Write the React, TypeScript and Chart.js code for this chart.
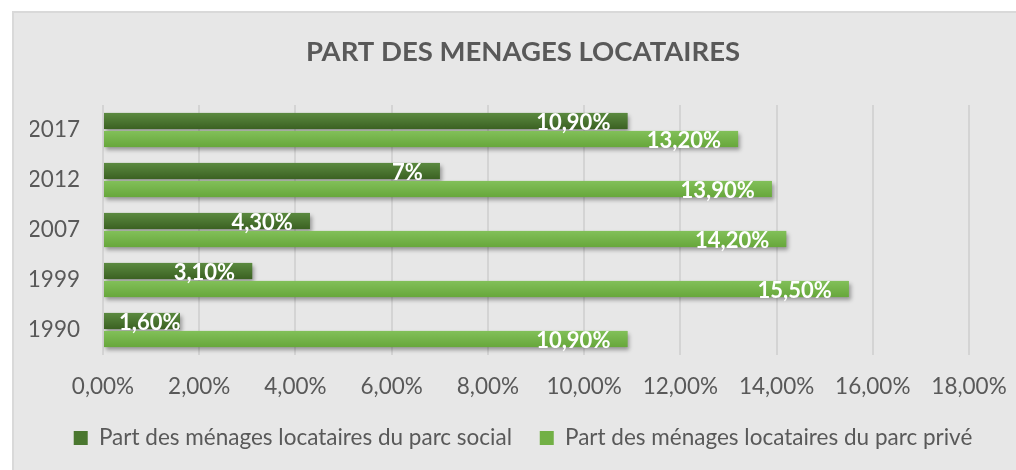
import React, { useEffect, useRef } from 'react';
import { Chart, registerables } from 'chart.js';

Chart.register(...registerables);

const years = ['2017', '2012', '2007', '1999', '1990'];
const socialValues = [10.9, 7, 4.3, 3.1, 1.6];
const priveValues = [13.2, 13.9, 14.2, 15.5, 10.9];
const seriesNames = [
  'Part des ménages locataires du parc social',
  'Part des ménages locataires du parc privé',
];
const xMin = 0;
const xMax = 18;
const xStep = 2;
const chartTitle = 'PART DES MENAGES LOCATAIRES';

const baseColors = ['#4a772f', '#72b045'];
const gradStops = [
  ['#5b8a40', '#3b6122'],
  ['#82c059', '#67a73b'],
];

const fmtTick = (v: number) => v.toFixed(2).replace('.', ',') + '%';
const fmtLabel = (v: number) =>
  Number.isInteger(v) ? v + '%' : v.toFixed(2).replace('.', ',') + '%';

const FONT = 'Lato, "Open Sans", sans-serif';

const barFx = {
  id: 'barFx',
  beforeDatasetsDraw(chart: any) {
    const ctx = chart.ctx;
    ctx.save();
    ctx.shadowColor = 'rgba(0,0,0,0.35)';
    ctx.shadowBlur = 4;
    ctx.shadowOffsetX = 2;
    ctx.shadowOffsetY = 3;
  },
  afterDatasetsDraw(chart: any) {
    const ctx = chart.ctx;
    ctx.restore();
    chart.data.datasets.forEach((ds: any, di: number) => {
      const meta = chart.getDatasetMeta(di);
      const [c0, c1] = gradStops[di];
      meta.data.forEach((el: any) => {
        const { x, y, base, height } = el.getProps(['x', 'y', 'base', 'height'], true);
        const t = y - height / 2;
        const g = ctx.createLinearGradient(0, t, 0, t + height);
        g.addColorStop(0, c0);
        g.addColorStop(1, c1);
        ctx.fillStyle = g;
        ctx.fillRect(base, t, x - base, height);
      });
    });
    ctx.save();
    ctx.font = 'bold 22px ' + FONT;
    ctx.fillStyle = '#ffffff';
    ctx.textAlign = 'right';
    ctx.textBaseline = 'alphabetic';
    chart.data.datasets.forEach((ds: any, di: number) => {
      const meta = chart.getDatasetMeta(di);
      meta.data.forEach((el: any, i: number) => {
        const { x, y, base, height } = el.getProps(['x', 'y', 'base', 'height'], true);
        const txt = fmtLabel(ds.data[i]);
        const w = ctx.measureText(txt).width;
        const right = Math.max(x - 17, base + 15 + w);
        ctx.fillText(txt, right, y + height / 2 + 1);
      });
    });
    ctx.restore();
  },
};

function BarChart() {
  const ref = useRef<HTMLCanvasElement | null>(null);
  useEffect(() => {
    if (!ref.current) return;
    Chart.defaults.font.family = FONT;
    const chart = new Chart(ref.current, {
      type: 'bar',
      data: {
        labels: years,
        datasets: [
          {
            label: seriesNames[0],
            data: socialValues,
            backgroundColor: baseColors[0],
            borderWidth: 0,
            categoryPercentage: 0.72,
            barPercentage: 0.9,
          },
          {
            label: seriesNames[1],
            data: priveValues,
            backgroundColor: baseColors[1],
            borderWidth: 0,
            categoryPercentage: 0.72,
            barPercentage: 0.9,
          },
        ],
      },
      options: {
        indexAxis: 'y',
        responsive: false,
        animation: false,
        devicePixelRatio: 1,
        layout: { padding: { left: 18, right: 0, top: 0, bottom: 10.75 } },
        scales: {
          x: {
            min: xMin,
            max: xMax,
            ticks: {
              stepSize: xStep,
              callback: (v: any) => fmtTick(Number(v)),
              color: '#595959',
              font: { size: 22.5 },
              padding: 18.5,
            },
            grid: { color: '#d4d4d4', lineWidth: 2, drawTicks: false },
            border: { display: false },
            afterFit: (s: any) => {
              s.paddingRight = 47;
              s.height = 44;
            },
          },
          y: {
            ticks: { color: '#595959', font: { size: 22.5 }, padding: 23 },
            grid: { display: false, drawTicks: false },
            border: { display: false },
            afterFit: (s: any) => {
              s.width = 73;
            },
          },
        },
        plugins: {
          title: {
            display: true,
            text: chartTitle,
            color: '#595959',
            font: { size: 27.5, weight: 'bold' },
            padding: { top: 24.5, bottom: 36.5 },
          },
          legend: {
            position: 'bottom',
            labels: {
              boxWidth: 14,
              boxHeight: 14,
              padding: 27.75,
              color: '#595959',
              font: { size: 22.5 },
            },
          },
          tooltip: { enabled: false },
        },
      },
      plugins: [barFx],
    });
    return () => chart.destroy();
  }, []);
  return (
    <canvas
      ref={ref}
      width={1004}
      height={459}
      style={{ position: 'absolute', left: 12, top: 11, width: 1004, height: 459 }}
    />
  );
}

export default function App() {
  return (
    <div
      style={{
        position: 'fixed',
        left: 0,
        top: 0,
        width: 1016,
        height: 470,
        background: '#ffffff',
        overflow: 'hidden',
      }}
    >
      <div
        style={{
          position: 'absolute',
          left: 12,
          top: 11,
          width: 1020,
          height: 480,
          background: '#e7e7e7',
          border: '2px solid #d9d9d9',
          boxSizing: 'border-box',
        }}
      />
      <BarChart />
    </div>
  );
}
